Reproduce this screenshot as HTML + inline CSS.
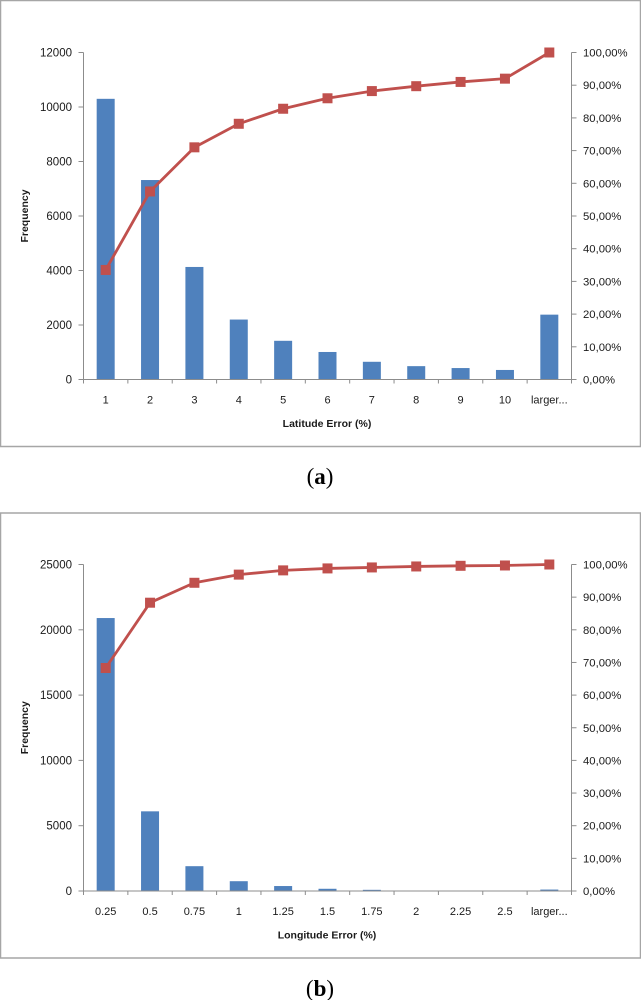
<!DOCTYPE html>
<html>
<head>
<meta charset="utf-8">
<style>
html,body{margin:0;padding:0;background:#fff;width:641px;height:1000px;overflow:hidden}
svg{display:block}
text{font-family:"Liberation Sans",sans-serif;fill:#1a1a1a}
.cap{font-family:"Liberation Serif",serif;font-size:23px;fill:#000}
</style>
</head>
<body>
<svg id="fig" width="641" height="1000" viewBox="0 0 641 1000" xmlns="http://www.w3.org/2000/svg"></svg>
<script>
const latCategories = ['1','2','3','4','5','6','7','8','9','10','larger...'];
const latFrequency = [10300,7320,4130,2200,1420,1010,650,490,420,350,2380];
const latCumulative = [33.5,57.5,71,78.2,82.8,86,88.2,89.7,91,92,100];
const latLeftTicks = [0,2000,4000,6000,8000,10000,12000];
const lonCategories = ['0.25','0.5','0.75','1','1.25','1.5','1.75','2','2.25','2.5','larger...'];
const lonFrequency = [20900,6100,1900,750,380,170,90,30,20,15,110];
const lonCumulative = [68.3,88.3,94.4,96.9,98.2,98.8,99.1,99.4,99.6,99.7,100];
const lonLeftTicks = [0,5000,10000,15000,20000,25000];
const pctTicks = [0,10,20,30,40,50,60,70,80,90,100];

const NS = 'http://www.w3.org/2000/svg';
const fig = document.getElementById('fig');

function make(parent, tag, attrs, txt) {
  const el = document.createElementNS(NS, tag);
  for (const k in attrs) el.setAttribute(k, attrs[k]);
  if (txt !== undefined) el.textContent = txt;
  parent.appendChild(el);
  return el;
}

function drawPanel(id, box, plot, categories, freq, cum, leftTicks, xTitle, xTitleX, caption, captionY) {
  const g = make(fig, 'g', {});
  
  

  const frame = make(g, 'rect', {x: box.x, y: box.y, width: box.w, height: box.h, fill: '#fff', stroke: '#a6a6a6', 'stroke-width': 1.5});
  
  

  const leftMax = leftTicks[leftTicks.length - 1];
  const yLeft = v => plot.bottom - (v / leftMax) * (plot.bottom - plot.top);
  const yRight = v => plot.bottom - (v / 100) * (plot.bottom - plot.top);
  const band = (plot.right - plot.left) / categories.length;
  const xC = i => plot.left + band * (i + 0.5);
  const barW = 18;

  freq.forEach((v, i) => {
    const bar = make(g, 'rect', {x: xC(i) - barW / 2, y: yLeft(v), width: barW, height: plot.bottom - yLeft(v), fill: '#4f81bd'});
    
    
  });

  const axisStyle = {stroke: '#8c8c8c', 'stroke-width': 1, fill: 'none'};
  const leftAxis = make(g, 'line', Object.assign({x1: plot.left, x2: plot.left, y1: plot.top, y2: plot.bottom}, axisStyle));
  
  
  const rightAxis = make(g, 'line', Object.assign({x1: plot.right, x2: plot.right, y1: plot.top, y2: plot.bottom}, axisStyle));
  
  
  const xAxis = make(g, 'line', Object.assign({x1: plot.left - 5, x2: plot.right + 5, y1: plot.bottom, y2: plot.bottom}, axisStyle));
  
  

  leftTicks.forEach(t => {
    const y = yLeft(t);
    make(g, 'line', Object.assign({x1: plot.left - 5, x2: plot.left, y1: y, y2: y}, axisStyle));
    const lab = make(g, 'text', {x: 72, y: y + 4, 'text-anchor': 'end', 'font-size': 11.5}, String(t));
    
    
  });

  pctTicks.forEach(t => {
    const y = yRight(t);
    make(g, 'line', Object.assign({x1: plot.right, x2: plot.right + 5, y1: y, y2: y}, axisStyle));
    const lab = make(g, 'text', {x: 583, y: y + 4, 'font-size': 11.3}, t.toFixed(2).replace('.', ',') + '%');
    
    
  });

  categories.forEach((c, i) => {
    const x = plot.left + band * (i + 1);
    make(g, 'line', Object.assign({x1: x, x2: x, y1: plot.bottom, y2: plot.bottom + 4}, axisStyle));
    const lab = make(g, 'text', {x: xC(i), y: plot.bottom + 24, 'text-anchor': 'middle', 'font-size': 11}, c);
    
    
  });
  make(g, 'line', Object.assign({x1: plot.left, x2: plot.left, y1: plot.bottom, y2: plot.bottom + 4}, axisStyle));

  const pts = cum.map((v, i) => xC(i) + ',' + yRight(v)).join(' ');
  const line = make(g, 'polyline', {points: pts, fill: 'none', stroke: '#c0504d', 'stroke-width': 2.8, 'stroke-linejoin': 'round'});
  
  
  cum.forEach((v, i) => {
    const m = make(g, 'rect', {x: xC(i) - 5, y: yRight(v) - 5, width: 10, height: 10, fill: '#c0504d'});
    
    
  });

  const yCenter = (plot.top + plot.bottom) / 2;
  const yt = make(g, 'text', {x: 0, y: 0, transform: 'translate(28,' + yCenter + ') rotate(-90)', 'text-anchor': 'middle', 'font-size': 10.5, 'font-weight': 'bold'}, 'Frequency');
  
  

  const xt = make(g, 'text', {x: xTitleX, y: plot.bottom + 47.5, 'text-anchor': 'middle', 'font-size': 10.5, 'font-weight': 'bold'}, xTitle);
  
  

  const cap = make(g, 'text', {x: 320, y: captionY, 'text-anchor': 'middle', 'class': 'cap'});
  
  
  make(cap, 'tspan', {}, '(');
  make(cap, 'tspan', {'font-weight': 'bold'}, caption);
  make(cap, 'tspan', {}, ')');
}

drawPanel('latitude', {x: 0.5, y: 0.5, w: 640, h: 446},
  {left: 83.5, right: 571.5, top: 52.5, bottom: 379.5},
  latCategories, latFrequency, latCumulative, latLeftTicks,
  'Latitude Error (%)', 327, 'a', 484);

drawPanel('longitude', {x: 0.5, y: 513, w: 640, h: 445},
  {left: 83.5, right: 571.5, top: 564.5, bottom: 891},
  lonCategories, lonFrequency, lonCumulative, lonLeftTicks,
  'Longitude Error (%)', 327, 'b', 996);
</script>
</body>
</html>
